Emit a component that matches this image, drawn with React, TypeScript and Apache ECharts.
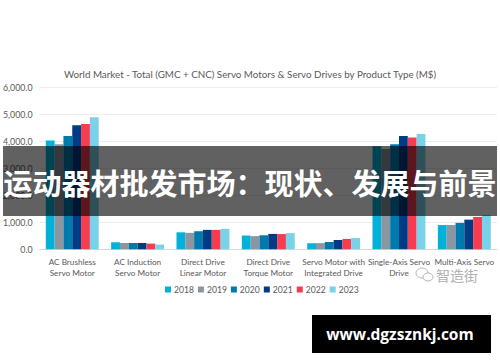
import React, { useEffect, useRef } from "react";
import * as echarts from "echarts";

const categories = [
  "AC Brushless\nServo Motor",
  "AC Induction\nServo Motor",
  "Direct Drive\nLinear Motor",
  "Direct Drive\nTorque Motor",
  "Servo Motor with\nIntegrated Drive",
  "Single-Axis Servo\nDrive",
  "Multi-Axis Servo\nDrive",
];
const years = ["2018", "2019", "2020", "2021", "2022", "2023"];
const v2018 = [4030, 260, 630, 510, 225, 3820, 900];
const v2019 = [3900, 230, 610, 490, 230, 3720, 900];
const v2020 = [4200, 235, 670, 520, 270, 3900, 980];
const v2021 = [4600, 235, 720, 570, 345, 4200, 1100];
const v2022 = [4650, 210, 720, 565, 385, 4150, 1200];
const v2023 = [4900, 175, 760, 600, 420, 4280, 1270];
const seriesValues = [v2018, v2019, v2020, v2021, v2022, v2023];
const colors = ["#00b2d9", "#8c96a0", "#0079ad", "#003c86", "#f63c50", "#78d2ea"];
const titleText = "World Market - Total (GMC + CNC) Servo Motors & Servo Drives by Product Type (M$)";
const bannerText = "运动器材批发市场：现状、发展与前景";
const siteText = "www.dgzsznkj.com";
const watermarkText = "智造街";

export default function App() {
  const ref = useRef<HTMLDivElement>(null);
  useEffect(() => {
    if (!ref.current) return;
    const chart = echarts.init(ref.current, undefined, { renderer: "svg" });
    const font = "Lato, 'Open Sans', sans-serif";
    chart.setOption({
      animation: false,
      backgroundColor: "#ffffff",
      color: colors,
      title: {
        text: titleText,
        left: "center",
        top: 64,
        textStyle: { fontSize: 9.8, fontWeight: "normal", color: "#595959", fontFamily: font },
      },
      legend: {
        data: years,
        bottom: 63,
        left: 160,
        itemWidth: 6,
        itemHeight: 6,
        itemGap: 4,
        icon: "rect",
        textStyle: { fontSize: 8.6, color: "#595959", fontFamily: font, padding: [0, 0, 0, -2] },
      },
      grid: { left: 37, right: 3, top: 87.5, bottom: 112.7 },
      xAxis: {
        type: "category",
        data: categories,
        axisLine: { lineStyle: { color: "#d9d9d9" } },
        axisTick: { show: false },
        axisLabel: {
          fontSize: 8.2,
          color: "#595959",
          fontFamily: font,
          margin: 7,
          lineHeight: 11,
          interval: 0,
        },
      },
      yAxis: {
        type: "value",
        min: 0,
        max: 6000,
        interval: 1000,
        axisLabel: {
          fontSize: 8.8,
          color: "#595959",
          fontFamily: font,
          margin: 7,
          formatter: (v: number) =>
            v.toLocaleString("en-US", { minimumFractionDigits: 1, maximumFractionDigits: 1 }),
        },
        splitLine: { lineStyle: { color: "#ececec" } },
      },
      series: years.map((y, i) => ({
        name: y,
        type: "bar",
        data: seriesValues[i],
        barGap: "0%",
        barCategoryGap: "19%",
      })),
      graphic: [
        {
          type: "rect",
          z: 100,
          shape: { x: 3, y: 146, width: 494, height: 70 },
          style: { fill: "rgba(0,0,0,0.62)" },
        },
        {
          type: "text",
          z: 101,
          x: 250,
          y: 182,
          style: {
            text: bannerText,
            fill: "#ffffff",
            fontSize: 29,
            fontWeight: "bold",
            fontFamily: "'Noto Sans CJK SC', sans-serif",
            align: "center",
            verticalAlign: "middle",
          },
        },
        {
          type: "rect",
          z: 100,
          shape: { x: 312, y: 315, width: 179, height: 38 },
          style: { fill: "#000000" },
        },
        {
          type: "text",
          z: 101,
          x: 400,
          y: 334,
          style: {
            text: siteText,
            fill: "#ffffff",
            fontSize: 15.5,
            fontWeight: "bold",
            fontFamily: "'Open Sans', sans-serif",
            align: "center",
            verticalAlign: "middle",
          },
        },
        {
          type: "rect",
          z: 49,
          shape: { x: 413, y: 266, width: 80, height: 18 },
          style: { fill: "#ffffff" },
        },
        {
          type: "ellipse",
          z: 50,
          shape: { cx: 422, cy: 273, rx: 6, ry: 5 },
          style: { fill: "none", stroke: "#b5b5b5", lineWidth: 1 },
        },
        {
          type: "ellipse",
          z: 50,
          shape: { cx: 428, cy: 277, rx: 5, ry: 4 },
          style: { fill: "#ffffff", stroke: "#b5b5b5", lineWidth: 1 },
        },
        {
          type: "text",
          z: 50,
          x: 436,
          y: 275,
          style: {
            text: watermarkText,
            fill: "#b0b0b0",
            fontSize: 14,
            fontFamily: "'Noto Sans CJK SC', sans-serif",
            verticalAlign: "middle",
          },
        },
      ],
    });
    return () => chart.dispose();
  }, []);
  return (
    <div
      ref={ref}
      style={{ position: "absolute", left: 0, top: 0, width: 500, height: 362 }}
    />
  );
}
